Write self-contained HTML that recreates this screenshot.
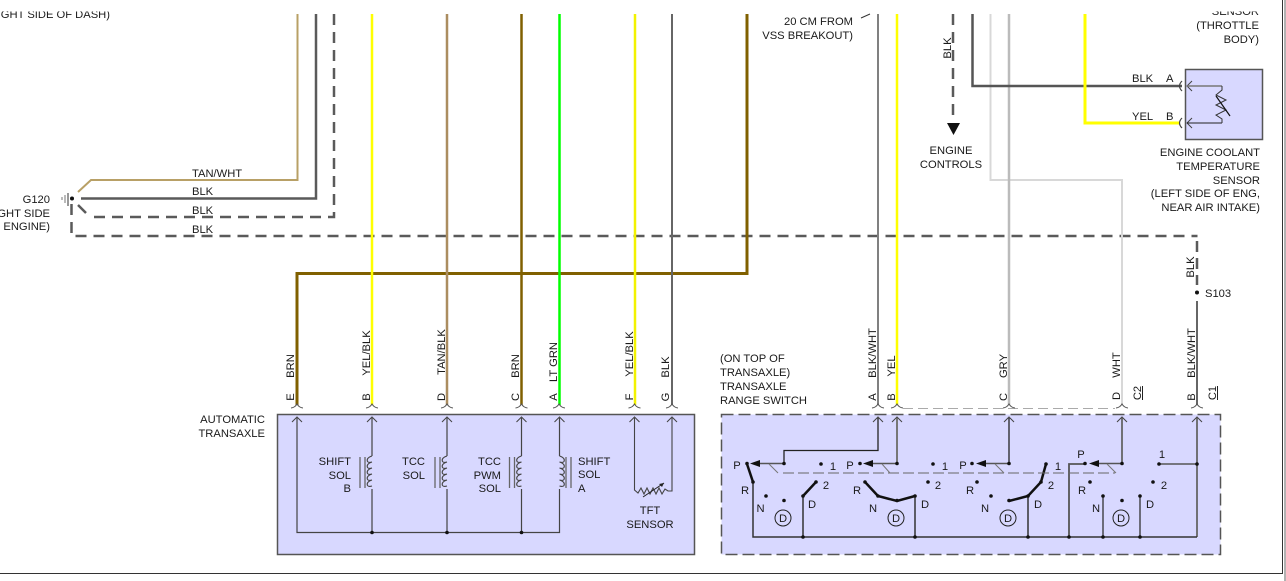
<!DOCTYPE html>
<html>
<head>
<meta charset="utf-8">
<style>
html,body{margin:0;padding:0;background:#fff;width:1286px;height:581px;overflow:hidden}
svg{display:block}
text{font-family:"Liberation Sans",sans-serif;font-size:11.2px;fill:#1a1a1a}
.e{text-anchor:end}
.m{text-anchor:middle}
</style>
</head>
<body>
<svg width="1286" height="581" viewBox="0 0 1286 581" xmlns="http://www.w3.org/2000/svg">
<defs>
<path id="arc" d="M-6 408Q-2 407.500 0 404Q2 407.500 6 408" fill="none" stroke="#555" stroke-width="1"/>
<path id="chev" d="M-5 422L0 417L5 422" fill="none" stroke="#444" stroke-width="1"/>
<path id="coilL" d="M0 456q-6 2 -4.500 5.500q1 1.500 4.500 0.500q-6 2 -4.500 5.500q1 1.500 4.500 0.500q-6 2 -4.500 5.500q1 1.500 4.500 0.500q-6 2 -4.500 5.500q1 1.500 4.500 0.500q-6 2 -4.500 5.500q1 1.500 4.500 0.500" fill="none" stroke="#444" stroke-width="1.100"/>
<path id="coilR" d="M0 456q6 2 4.500 5.500q-1 1.500 -4.500 0.500q6 2 4.500 5.500q-1 1.500 -4.500 0.500q6 2 4.500 5.500q-1 1.500 -4.500 0.500q6 2 4.500 5.500q-1 1.500 -4.500 0.500q6 2 4.500 5.500q-1 1.500 -4.500 0.500" fill="none" stroke="#444" stroke-width="1.100"/>
</defs>

<!-- frame -->
<path d="M0 573.500H1282.500V0" fill="none" stroke="#333" stroke-width="1"/>
<path d="M1285 0V581" stroke="#999" stroke-width="1.500"/>

<!-- boxes -->
<rect x="277.500" y="414.500" width="417" height="140" fill="#d8d8ff" stroke="#555" stroke-width="1.500"/>
<rect x="721.500" y="414.500" width="499" height="140" fill="#d8d8ff" stroke="#555" stroke-width="1.500" stroke-dasharray="12 5"/>
<rect x="1185.500" y="69.500" width="77" height="70" fill="#d8d8ff" stroke="#555" stroke-width="1.500"/>

<!-- left wires -->
<path d="M297.500 14V180H91L78 192" fill="none" stroke="#b8a066" stroke-width="2"/>
<path d="M316 14V198.500H81" fill="none" stroke="#5a5a5a" stroke-width="2.500"/>
<path d="M334 14V217H90" fill="none" stroke="#5a5a5a" stroke-width="2.500" stroke-dasharray="11 7"/>
<path d="M78 205L86 213" fill="none" stroke="#5a5a5a" stroke-width="2.500"/>
<path d="M71.500 204V236H1197.500" fill="none" stroke="#5a5a5a" stroke-width="2.500" stroke-dasharray="11 7"/>
<path d="M1197 241V285" fill="none" stroke="#5a5a5a" stroke-width="2.500" stroke-dasharray="11 6"/>
<path d="M68 193V206" stroke="#777" stroke-width="1.500"/>
<path d="M65 195V203" stroke="#777" stroke-width="1"/>
<path d="M62 197V200" stroke="#777" stroke-width="1"/>
<circle cx="72" cy="198.500" r="2" fill="#111"/>

<!-- main verticals -->
<path d="M297 405V273.500H747V14" fill="none" stroke="#806000" stroke-width="3"/>
<path d="M372 14V405" stroke="#ffff00" stroke-width="2.500"/>
<path d="M447 14V405" stroke="#ab8d60" stroke-width="2.500"/>
<path d="M521.500 14V405" stroke="#806000" stroke-width="2.500"/>
<path d="M559.500 14V405" stroke="#00ff00" stroke-width="2.500"/>
<path d="M635 14V405" stroke="#f2f200" stroke-width="2.500"/>
<path d="M672 14V405" stroke="#666" stroke-width="2"/>
<path d="M878 14V405" stroke="#808080" stroke-width="2"/>
<path d="M897 14V405" stroke="#ffff00" stroke-width="2.500"/>
<path d="M990.500 14V180H1122V405" fill="none" stroke="#d8d8d8" stroke-width="2"/>
<path d="M1009 14V405" stroke="#bbb" stroke-width="2.500"/>
<path d="M972.500 14V86H1182" fill="none" stroke="#555" stroke-width="2.500"/>
<path d="M1085 14V123H1180" fill="none" stroke="#ffff00" stroke-width="3"/>
<path d="M953 14V122" stroke="#5a5a5a" stroke-width="2.500" stroke-dasharray="11 7"/>
<path d="M947 123H960L953.500 135Z" fill="#111"/>
<circle cx="1197" cy="292.500" r="2" fill="#111"/>
<path d="M1197 301V405" stroke="#666" stroke-width="2"/>
<path d="M903 408.500H1115" stroke="#aaa" stroke-width="1" stroke-dasharray="10 5"/>
<path d="M861 18L870 14" stroke="#333" stroke-width="1"/>

<!-- connector arcs -->
<use href="#arc" x="297"/><use href="#arc" x="372"/><use href="#arc" x="447"/><use href="#arc" x="521.500"/><use href="#arc" x="559"/><use href="#arc" x="634.500"/><use href="#arc" x="672"/>
<use href="#arc" x="878"/><use href="#arc" x="897"/><use href="#arc" x="1009"/><use href="#arc" x="1122"/><use href="#arc" x="1197"/>

<!-- box 1 internals -->
<path d="M297 418V532.500H559.500V489M372 418V456M372 489V532M447 418V456M447 489V532M521.500 418V456M521.500 489V532M559.500 418V456" fill="none" stroke="#444" stroke-width="1.200"/>
<use href="#chev" x="297"/><use href="#chev" x="372"/><use href="#chev" x="447"/><use href="#chev" x="521.500"/><use href="#chev" x="559.500"/><use href="#chev" x="634.500"/><use href="#chev" x="672"/>
<use href="#coilL" x="372"/><use href="#coilL" x="447"/><use href="#coilL" x="521.500"/><use href="#coilR" x="559.500"/>
<path d="M360 457V488M365 457V488M435 457V488M440 457V488M509.500 457V488M514.500 457V488M566 457V488M571 457V488" stroke="#666" stroke-width="1.300"/>
<circle cx="372" cy="532.500" r="1.800" fill="#111"/><circle cx="447" cy="532.500" r="1.800" fill="#111"/><circle cx="521.500" cy="532.500" r="1.800" fill="#111"/>
<path d="M634.500 418V490L638 493L641 488L644 494L647 488L650 494L653 488L656 494L659 488L662 494L665 489L668 491H672V418" fill="none" stroke="#444" stroke-width="1.100"/>
<path d="M643 497L664 483" stroke="#222" stroke-width="1"/>
<path d="M664 483L659 484L662 487Z" fill="#222"/>

<!-- right component internals -->
<path d="M1192 81L1187 86L1192 91M1192 118L1187 123L1192 128" fill="none" stroke="#444" stroke-width="1"/>
<path d="M1187 86H1222" stroke="#777" stroke-width="1.500"/>
<path d="M1187 123H1222" stroke="#222" stroke-width="1"/>
<path d="M1222 86V90L1216 95L1226 100L1216 105L1226 110L1216 115L1222 119V123" fill="none" stroke="#333" stroke-width="1"/>
<path d="M1216 96L1230 116" stroke="#111" stroke-width="1.200"/>
<path d="M1182 81Q1177 86 1182 91M1182 118Q1177 123 1182 128" fill="none" stroke="#444" stroke-width="1.200"/>

<!-- box 2 internals -->
<g fill="none">
<path d="M878 418V450.500H784V463" stroke="#222" stroke-width="1.300"/>
<path d="M897 418V463.500" stroke="#777" stroke-width="2"/>
<path d="M1009 418V463.500" stroke="#222" stroke-width="1.300"/>
<path d="M1122 418V463.500" stroke="#666" stroke-width="1.800"/>
<path d="M1197 418V537" stroke="#666" stroke-width="1.800"/>
<path d="M784 463.500H758M897 463.500H869M1009 463.500H984M1122 463.500H1096" stroke="#555" stroke-width="1.500"/>
<path d="M1159 464H1197" stroke="#555" stroke-width="1.500"/>
<path d="M753 482V537H1197" stroke="#333" stroke-width="1.500"/>
<path d="M803 537V496M915 537V496M1028 537V496" stroke="#333" stroke-width="1.500"/>
<path d="M1069 537V464H1085" stroke="#555" stroke-width="1.800"/>
<path d="M1103 537V496M1140 537V496" stroke="#333" stroke-width="1.300"/>
<path d="M747 464L753 482" stroke="#111" stroke-width="2.500"/>
<path d="M803 496L816 482" stroke="#111" stroke-width="2.500"/>
<path d="M865 482L878 496L897 501L915 496" stroke="#111" stroke-width="2.500"/>
<path d="M1009 501L1028 496L1041 482L1046 464" stroke="#111" stroke-width="2.500"/>
<path d="M783 473H1115" stroke="#666" stroke-width="1" stroke-dasharray="11 4"/>
<path d="M769 464L778 473M882 464L890 473M995 464L1004 473M1107 464L1116 473" stroke="#777" stroke-width="1"/>
<circle cx="783" cy="518" r="8" stroke="#222" stroke-width="1"/>
<circle cx="896" cy="518" r="8" stroke="#222" stroke-width="1"/>
<circle cx="1008" cy="518" r="8" stroke="#222" stroke-width="1"/>
<circle cx="1121" cy="518" r="8" stroke="#222" stroke-width="1"/>
</g>
<use href="#chev" x="878"/><use href="#chev" x="897"/><use href="#chev" x="1009"/><use href="#chev" x="1122"/><use href="#chev" x="1197"/>
<path d="M750 463.500L760 460V467ZM863 463.500L873 460V467ZM976 463.500L986 460V467ZM1089 463.500L1099 460V467Z" fill="#111"/>
<g fill="#111">
<circle cx="747" cy="463.500" r="1.800"/><circle cx="784" cy="463.500" r="1.800"/><circle cx="821" cy="464" r="1.800"/>
<circle cx="753" cy="482" r="1.800"/><circle cx="816" cy="482" r="1.800"/><circle cx="766" cy="496" r="1.800"/><circle cx="784" cy="500.500" r="1.800"/><circle cx="803" cy="496" r="1.800"/>
<circle cx="803" cy="537" r="1.800"/><circle cx="915" cy="537" r="1.800"/><circle cx="1028" cy="537" r="1.800"/><circle cx="1069" cy="537" r="1.800"/><circle cx="1103" cy="537" r="1.800"/><circle cx="1140" cy="537" r="1.800"/>
<circle cx="860" cy="463.500" r="1.800"/><circle cx="897" cy="463.500" r="1.800"/><circle cx="933" cy="464" r="1.800"/><circle cx="865" cy="482" r="1.800"/><circle cx="928" cy="482" r="1.800"/><circle cx="878" cy="496" r="1.800"/><circle cx="897" cy="500.500" r="1.800"/><circle cx="915" cy="496" r="1.800"/>
<circle cx="972" cy="463.500" r="1.800"/><circle cx="1009" cy="463.500" r="1.800"/><circle cx="1046" cy="464" r="1.800"/><circle cx="977" cy="482" r="1.800"/><circle cx="1041" cy="482" r="1.800"/><circle cx="991" cy="496" r="1.800"/><circle cx="1009" cy="500.500" r="1.800"/><circle cx="1028" cy="496" r="1.800"/>
<circle cx="1085" cy="463.500" r="1.800"/><circle cx="1122" cy="463.500" r="1.800"/><circle cx="1159" cy="464" r="1.800"/><circle cx="1090" cy="482" r="1.800"/><circle cx="1153" cy="482" r="1.800"/><circle cx="1103" cy="496" r="1.800"/><circle cx="1122" cy="500.500" r="1.800"/><circle cx="1140" cy="496" r="1.800"/><circle cx="1197" cy="464" r="1.800"/>
</g>

<!-- switch labels -->
<g style="text-anchor:middle">
<text x="737" y="469">P</text><text x="745" y="494">R</text><text x="760.500" y="512">N</text><text x="812" y="508">D</text><text x="833" y="470">1</text><text x="826" y="489">2</text><text x="783" y="522">D</text>
<text x="850" y="469">P</text><text x="857" y="494">R</text><text x="873" y="512">N</text><text x="925" y="508">D</text><text x="945" y="470">1</text><text x="938" y="489">2</text><text x="896" y="522">D</text>
<text x="963" y="469">P</text><text x="970" y="494">R</text><text x="985" y="512">N</text><text x="1038" y="508">D</text><text x="1058" y="470">1</text><text x="1051" y="489">2</text><text x="1008" y="522">D</text>
<text x="1081" y="458">P</text><text x="1082" y="494">R</text><text x="1096" y="512">N</text><text x="1150" y="508">D</text><text x="1162" y="458">1</text><text x="1164" y="489">2</text><text x="1121" y="522">D</text>
</g>

<!-- box 1 labels -->
<text class="e" x="351" y="465">SHIFT</text><text class="e" x="351" y="479">SOL</text><text class="e" x="351" y="492">B</text>
<text class="e" x="425" y="465">TCC</text><text class="e" x="425" y="479">SOL</text>
<text class="e" x="501" y="465">TCC</text><text class="e" x="501" y="479">PWM</text><text class="e" x="501" y="492">SOL</text>
<text x="578" y="465">SHIFT</text><text x="578" y="478">SOL</text><text x="578" y="492">A</text>
<text class="m" x="650" y="514">TFT</text><text class="m" x="650" y="528">SENSOR</text>
<text class="e" x="265" y="423">AUTOMATIC</text><text class="e" x="265" y="437">TRANSAXLE</text>

<text x="720" y="362">(ON TOP OF</text><text x="720" y="376">TRANSAXLE)</text><text x="720" y="390">TRANSAXLE</text><text x="720" y="404">RANGE SWITCH</text>

<!-- wire labels: vertical -->
<g style="text-anchor:middle">
<text transform="translate(294,397) rotate(-90)">E</text><text transform="translate(294,366) rotate(-90)">BRN</text>
<text transform="translate(370,397) rotate(-90)">B</text><text transform="translate(370,353) rotate(-90)">YEL/BLK</text>
<text transform="translate(445,397) rotate(-90)">D</text><text transform="translate(445,352) rotate(-90)">TAN/BLK</text>
<text transform="translate(519,397) rotate(-90)">C</text><text transform="translate(519,366) rotate(-90)">BRN</text>
<text transform="translate(557,397) rotate(-90)">A</text><text transform="translate(557,362) rotate(-90)">LT GRN</text>
<text transform="translate(633,397) rotate(-90)">F</text><text transform="translate(633,354) rotate(-90)">YEL/BLK</text>
<text transform="translate(669,397) rotate(-90)">G</text><text transform="translate(669,367) rotate(-90)">BLK</text>
<text transform="translate(876,397) rotate(-90)">A</text><text transform="translate(876,353) rotate(-90)">BLK/WHT</text>
<text transform="translate(895,397) rotate(-90)">B</text><text transform="translate(895,366) rotate(-90)">YEL</text>
<text transform="translate(1007,397) rotate(-90)">C</text><text transform="translate(1007,366) rotate(-90)">GRY</text>
<text transform="translate(1120,396) rotate(-90)">D</text><text transform="translate(1120,365) rotate(-90)">WHT</text>
<text transform="translate(1141,393) rotate(-90)">C2</text>
<text transform="translate(1195,397) rotate(-90)">B</text><text transform="translate(1195,353) rotate(-90)">BLK/WHT</text>
<text transform="translate(1216,393) rotate(-90)">C1</text>
<text transform="translate(1194,267) rotate(-90)">BLK</text>
<text transform="translate(951,48) rotate(-90)">BLK</text>
</g>
<path d="M1142.500 386V400M1217.500 386V400" stroke="#222" stroke-width="1"/>
<text x="1205" y="297">S103</text>

<!-- left labels -->
<text x="192" y="177">TAN/WHT</text>
<text x="192" y="195">BLK</text><text x="192" y="214">BLK</text><text x="192" y="233">BLK</text>
<text class="e" x="50" y="203">G120</text><text class="e" x="50" y="217">RIGHT SIDE</text><text class="e" x="50" y="230">ENGINE)</text>

<!-- top labels -->
<text class="e" x="853" y="25">20 CM FROM</text><text class="e" x="853" y="39">VSS BREAKOUT)</text>
<text class="m" x="951" y="154">ENGINE</text><text class="m" x="951" y="168">CONTROLS</text>

<text x="1132" y="82">BLK</text><text x="1166" y="82">A</text>
<text x="1132" y="120">YEL</text><text x="1166" y="120">B</text>

<text class="e" x="1259" y="15">SENSOR</text>
<text class="e" x="1259" y="29">(THROTTLE</text><text class="e" x="1259" y="43">BODY)</text>
<text class="e" x="110" y="18">RIGHT SIDE OF DASH)</text>

<text class="e" x="1260" y="156">ENGINE COOLANT</text><text class="e" x="1260" y="170">TEMPERATURE</text><text class="e" x="1260" y="184">SENSOR</text>
<text class="e" x="1260" y="197">(LEFT SIDE OF ENG,</text><text class="e" x="1260" y="211">NEAR AIR INTAKE)</text>

<!-- top crop mask -->
<rect x="0" y="0" width="1281" height="11.500" fill="#fff"/>
</svg>
</body>
</html>
